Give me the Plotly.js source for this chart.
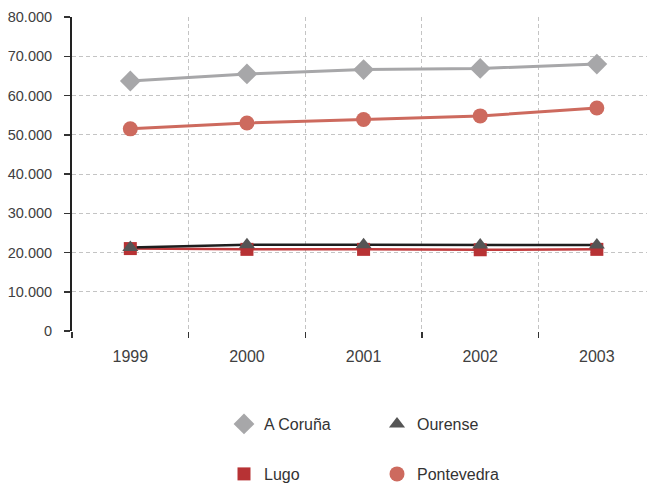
<!DOCTYPE html>
<html>
<head>
<meta charset="utf-8">
<script src="https://cdn.plot.ly/plotly-3.0.1.min.js"></script>
<style>html,body{margin:0;padding:0;background:#fff;}#chart{width:647px;height:486px;}</style>
</head>
<body>
<div id="chart"></div>
<script>
// Data
const years = ['1999', '2000', '2001', '2002', '2003'];
const coruna = [63700, 65500, 66600, 66900, 68000];
const lugo = [21000, 20800, 20800, 20700, 20800];
const ourense = [21300, 22000, 22000, 21900, 21900];
const pontevedra = [51500, 53000, 53900, 54800, 56800];

const seriesNames = ['A Coruña', 'Lugo', 'Ourense', 'Pontevedra'];

const FONT = '"Liberation Sans", Arial, "Roboto", sans-serif';

function lineTrace(y, color, width) {
  return {x: years, y: y, type: 'scatter', mode: 'lines', showlegend: false,
    hoverinfo: 'skip', line: {color: color, width: width}};
}
function markerTrace(name, y, symbol, size, color, legend) {
  return {x: years, y: y, type: 'scatter', mode: 'markers', name: name, legend: legend,
    marker: {symbol: symbol, size: size, color: color, line: {width: 0}}};
}

const data = [
  lineTrace(coruna, '#a7a7a9', 3),
  lineTrace(pontevedra, '#cd6a5e', 3),
  lineTrace(lugo, '#c0393b', 2.5),
  lineTrace(ourense, '#1e1e1e', 2.5),
  markerTrace(seriesNames[0], coruna, 'diamond', 16, '#a7a7a9', 'legend'),
  markerTrace(seriesNames[1], lugo, 'square', 13, '#b73234', 'legend2'),
  markerTrace(seriesNames[2], ourense, 'triangle-up', 14, '#555555', 'legend'),
  markerTrace(seriesNames[3], pontevedra, 'circle', 15, '#cd6a5e', 'legend2')
];

const legendCommon = {
  orientation: 'h', xref: 'container', yref: 'container', xanchor: 'left', yanchor: 'middle',
  entrywidth: 108, entrywidthmode: 'pixels', bgcolor: 'rgba(0,0,0,0)',
  font: {family: FONT, size: 16, color: '#333333'}
};

const layout = {
  width: 647, height: 486,
  margin: {l: 72, r: 0, t: 17, b: 155, pad: 0},
  paper_bgcolor: '#ffffff', plot_bgcolor: '#ffffff',
  separators: ',.',
  font: {family: FONT, color: '#404040'},
  xaxis: {
    type: 'category', range: [-0.5, 4.43], tickson: 'boundaries',
    ticks: 'outside', ticklen: 6, tickwidth: 1.5, tickcolor: '#333333',
    showgrid: true, gridcolor: '#c4c4c4', griddash: '4px,3px', gridwidth: 1,
    showline: false, zeroline: false, fixedrange: true,
    ticklabelstandoff: 14,
    tickfont: {family: FONT, size: 16, color: '#404040'}
  },
  yaxis: {
    range: [0, 80000], dtick: 10000, tickformat: ',d',
    showline: true, linecolor: '#222222', linewidth: 2,
    ticks: 'outside', ticklen: 6, tickwidth: 1.5, tickcolor: '#333333',
    showgrid: true, gridcolor: '#c4c4c4', griddash: '4px,3px', gridwidth: 1,
    zeroline: false, fixedrange: true,
    ticklabelstandoff: 9,
    tickfont: {family: FONT, size: 14.5, color: '#404040'}
  },
  legend: Object.assign({}, legendCommon, {x: 224 / 647, y: 1 - 424 / 486}),
  legend2: Object.assign({}, legendCommon, {x: 224 / 647, y: 1 - 474 / 486}),
  showlegend: true
};

Plotly.newPlot('chart', data, layout, {displayModeBar: false, staticPlot: true});
</script>
</body>
</html>
